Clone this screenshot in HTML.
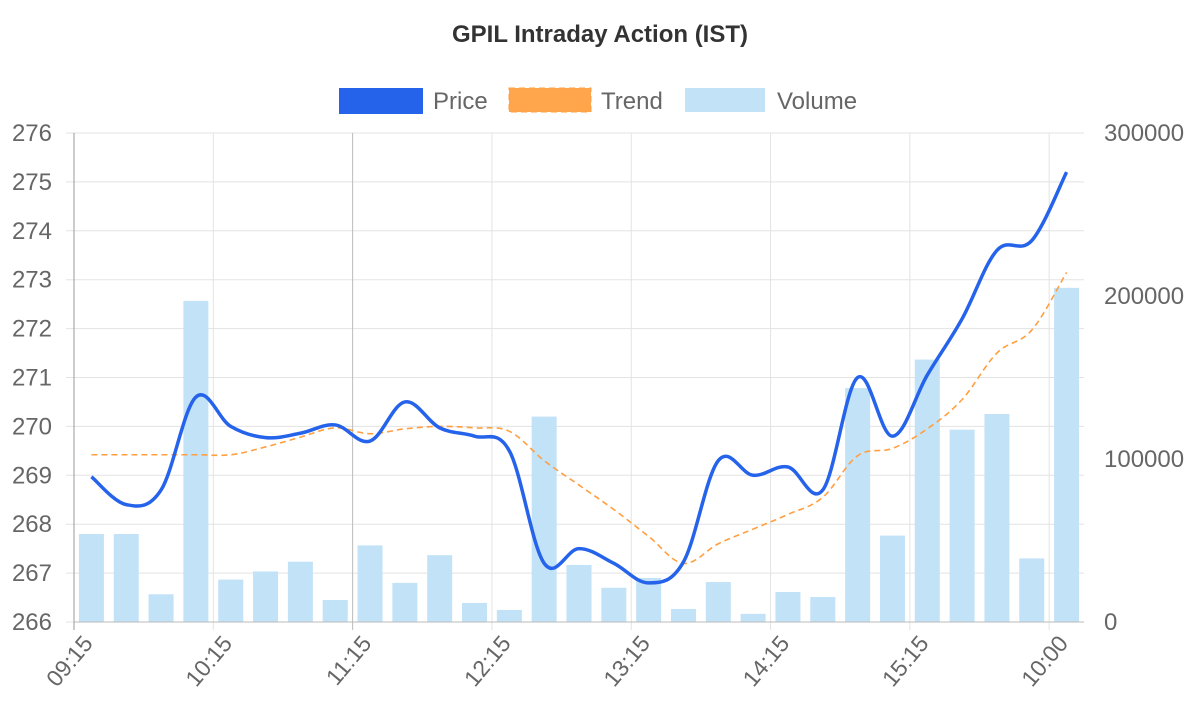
<!DOCTYPE html>
<html><head><meta charset="utf-8"><style>
body{margin:0;background:#fff;font-family:"Liberation Sans",sans-serif}
</style></head><body>
<svg id="chart" width="1200" height="700" xmlns="http://www.w3.org/2000/svg" font-family="Liberation Sans, sans-serif">
<text x="600" y="42" text-anchor="middle" font-size="24" font-weight="bold" fill="#333">GPIL Intraday Action (IST)</text>
<g>
<g><rect x="339" y="88" width="84" height="26" fill="#2563eb"/><text x="433" y="109" font-size="24" fill="#666">Price</text></g>
<g><rect x="509" y="88" width="82" height="24" fill="#ffa64d" stroke="#ff9f40" stroke-dasharray="6,4"/><text x="601" y="109" font-size="24" fill="#666">Trend</text></g>
<g><rect x="685" y="88" width="80" height="24" fill="#c2e2f7"/><text x="777" y="109" font-size="24" fill="#666">Volume</text></g>
</g>
<g id="grid"></g><g id="bars"></g><g id="lines"></g><g id="axes"></g>
</svg>
<script>
const labels=["09:15","10:15","11:15","12:15","13:15","14:15","15:15","10:00"];
const volume=[54000,54000,17000,197000,26000,31000,37000,13500,47000,24000,41000,11700,7400,126000,35000,21000,27000,8000,24500,5000,18400,15300,143500,53000,161000,118000,127600,39000,205000];
const price=[268.97,268.4,268.7,270.6,270.0,269.77,269.86,270.03,269.7,270.5,269.97,269.8,269.5,267.2,267.5,267.2,266.8,267.23,269.3,269.0,269.17,268.7,271.0,269.8,271.05,272.2,273.6,273.8,275.2];
const trend=[269.42,269.42,269.42,269.42,269.42,269.58,269.78,269.97,269.85,269.95,270.0,269.97,269.9,269.3,268.8,268.3,267.75,267.2,267.6,267.9,268.2,268.55,269.4,269.55,269.95,270.55,271.5,271.97,273.15];
const priceTicks=[266,267,268,269,270,271,272,273,274,275,276];
const volTicks=[0,100000,200000,300000];
const NS="http://www.w3.org/2000/svg";
const L=74,R=1084,T=133,B=622,n=volume.length,step=(R-L)/n;
const xC=i=>L+(i+0.5)*step, xG=i=>L+i*step;
const yP=v=>B-(v-266)/10*(B-T), yV=v=>B-v/300000*(B-T);
function mk(tag,attrs,parent){const e=document.createElementNS(NS,tag);for(const k in attrs)e.setAttribute(k,attrs[k]);document.getElementById(parent).appendChild(e);return e;}
priceTicks.forEach(t=>{const y=yP(t);
 const g=mk('line',{x1:L-8,x2:R,y1:y,y2:y,stroke:'#e3e3e3'},'grid');
 const tx=mk('text',{x:L-22,y:y+8,'text-anchor':'end','font-size':24,fill:'#666'},'axes');tx.textContent=t;});
volTicks.forEach(t=>{const y=yV(t);
 const tx=mk('text',{x:1104,y:y+8,'font-size':24,fill:'#666'},'axes');tx.textContent=t;});
labels.forEach((lb,k)=>{const x=xG(k*4);
 const g=mk('line',{x1:x,x2:x,y1:T,y2:B+8,stroke:k===0?'#999':(k===2?'#bbb':'#e3e3e3')},'grid');
 const tx=mk('text',{x:x+20,y:B+22,'text-anchor':'end','font-size':23,fill:'#666',transform:`rotate(-50 ${x+20} ${B+22})`},'axes');tx.textContent=lb;});
mk('line',{x1:L,x2:R,y1:B,y2:B,stroke:'#bbb'},'axes');
volume.forEach((v,i)=>{const y=yV(v);
 const r=mk('rect',{x:xC(i)-12.5,y:y,width:25,height:B-y,fill:'#c2e2f7'},'bars');});
function path(arr){const p=arr.map((v,i)=>[xC(i),yP(v)]);let d=`M${p[0][0]},${p[0][1]}`;const t=0.35;
 for(let i=0;i<p.length-1;i++){const p0=p[i-1]||p[i],p1=p[i],p2=p[i+1],p3=p[i+2]||p2;
  const c1=[p1[0]+(p2[0]-p0[0])*t/2,p1[1]+(p2[1]-p0[1])*t/2],c2=[p2[0]-(p3[0]-p1[0])*t/2,p2[1]-(p3[1]-p1[1])*t/2];
  d+=` C${c1[0]},${c1[1]} ${c2[0]},${c2[1]} ${p2[0]},${p2[1]}`;}return d;}
const tr=mk('path',{d:path(trend),fill:'none',stroke:'#ff9f40','stroke-width':1.6,'stroke-dasharray':'6,4'},'lines');
const pr=mk('path',{d:path(price),fill:'none',stroke:'#2563eb','stroke-width':3.5},'lines');
</script>
</body></html>
